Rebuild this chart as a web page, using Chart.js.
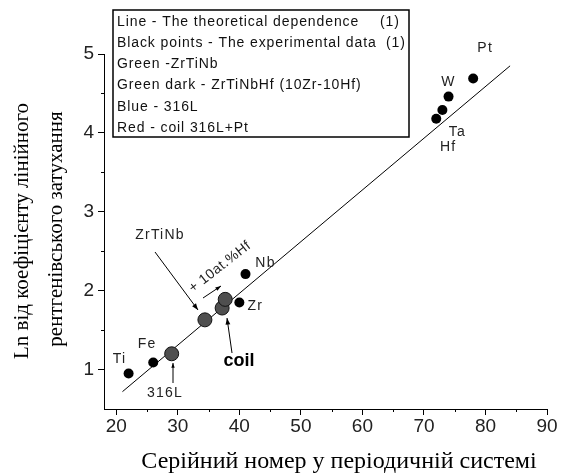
<!DOCTYPE html>
<html>
<head>
<meta charset="utf-8">
<script src="https://cdn.jsdelivr.net/npm/chart.js@4"></script>
<style>
  html,body{margin:0;padding:0;background:#fff;}
  #wrap{width:566px;height:474px;}
</style>
</head>
<body>
<div id="wrap"><canvas id="chart"></canvas></div>
<script>
// experimental data (black points)
const elements = ['Ti','Fe','Zr','Nb','Hf','Ta','W','Pt'];
const atomicNum = [22, 26, 40, 41, 72, 73, 74, 78];
const lnMu = [0.95, 1.09, 1.85, 2.21, 4.18, 4.29, 4.46, 4.69];

// alloys (grey points)
const alloys = ['316L', 'ZrTiNb', 'coil', 'ZrTiNbHf'];
const alloyZ = [29, 34.4, 37.2, 37.7];
const alloyLn = [1.2, 1.63, 1.78, 1.89];

// theoretical dependence (1)
const lineZ = [21, 84];
const lineLn = [0.72, 4.85];

const xTicks = [20, 25, 30, 35, 40, 45, 50, 55, 60, 65, 70, 75, 80, 85, 90];
const yTicks = [1, 1.5, 2, 2.5, 3, 3.5, 4, 4.5, 5];

const legendLines = [
  ['Line - The theoretical dependence', '(1)', 380],
  ['Black points - The experimental data', '(1)', 386],
  ['Green -ZrTiNb', '', 0],
  ['Green dark - ZrTiNbHf (10Zr-10Hf)', '', 0],
  ['Blue - 316L', '', 0],
  ['Red - coil 316L+Pt', '', 0]
];

// label offsets from each black point (px)
const elemLabelOff = {Ti:[-9,-14], Fe:[-6,-18], Zr:[16,4], Nb:[20,-11], Hf:[12,28], Ta:[15,22], W:[0,-14], Pt:[12,-30]};

function arrow(ctx, x1, y1, x2, y2, head) {
  ctx.beginPath();
  ctx.moveTo(x1, y1);
  ctx.lineTo(x2, y2);
  ctx.stroke();
  const a = Math.atan2(y2 - y1, x2 - x1);
  ctx.beginPath();
  ctx.moveTo(x2, y2);
  ctx.lineTo(x2 - head * Math.cos(a - 0.35), y2 - head * Math.sin(a - 0.35));
  ctx.lineTo(x2 - head * Math.cos(a + 0.35), y2 - head * Math.sin(a + 0.35));
  ctx.closePath();
  ctx.fill();
}

const decor = {
  id: 'decor',
  afterDraw(chart) {
    const ctx = chart.ctx;
    const xs = chart.scales.x, ys = chart.scales.y;
    const ax = chart.chartArea;
    ctx.save();
    ctx.strokeStyle = '#000';
    ctx.fillStyle = '#000';
    ctx.lineWidth = 1;

    // minor ticks
    ctx.beginPath();
    xTicks.filter(v => v % 10 !== 0).forEach(v => {
      const px = Math.round(xs.getPixelForValue(v)) + 0.5;
      ctx.moveTo(px, ax.bottom); ctx.lineTo(px, ax.bottom + 3);
    });
    yTicks.filter(v => v % 1 !== 0).forEach(v => {
      const py = Math.round(ys.getPixelForValue(v)) + 0.5;
      ctx.moveTo(ax.left, py); ctx.lineTo(ax.left - 3, py);
    });
    ctx.stroke();

    // legend box
    ctx.lineWidth = 1.5;
    ctx.strokeRect(113, 10, 296, 127);
    ctx.font = '14px "Liberation Sans", Arial, sans-serif';
    ctx.letterSpacing = '0.9px';
    ctx.textBaseline = 'middle';
    ctx.textAlign = 'left';
    ctx.fillStyle = '#111';
    legendLines.forEach((l, i) => {
      const y = 22 + i * 21.2;
      ctx.fillText(l[0], 117, y);
      if (l[1]) ctx.fillText(l[1], l[2], y);
    });

    // element labels
    ctx.fillStyle = '#222';
    ctx.font = '14px "Liberation Sans", Arial, sans-serif';
    ctx.letterSpacing = '1.2px';
    ctx.textAlign = 'center';
    elements.forEach((e, i) => {
      const o = elemLabelOff[e];
      ctx.fillText(e, xs.getPixelForValue(atomicNum[i]) + o[0], ys.getPixelForValue(lnMu[i]) + o[1]);
    });
    ctx.fillText('316L', 165, 393);
    ctx.fillText('ZrTiNb', 160, 235);

    ctx.letterSpacing = '0px';
    ctx.font = 'bold 18px "Liberation Sans", Arial, sans-serif';
    ctx.fillStyle = '#000';
    ctx.fillText('coil', 239, 361);

    // rotated "+ 10at.%Hf"
    ctx.save();
    ctx.translate(220, 267);
    ctx.rotate(-38 * Math.PI / 180);
    ctx.font = '14px "Liberation Sans", Arial, sans-serif';
    ctx.letterSpacing = '0.5px';
    ctx.fillStyle = '#222';
    ctx.fillText('+ 10at.%Hf', 0, 0);
    ctx.restore();
    ctx.letterSpacing = '0px';

    // arrows
    ctx.lineWidth = 1;
    arrow(ctx, 155, 252, 198, 310, 7);
    arrow(ctx, 203, 298, 221, 286, 6);
    arrow(ctx, 232, 353, 227, 318, 7);
    arrow(ctx, 173, 383, 173, 363, 5);

    // axis titles
    ctx.fillStyle = '#000';
    ctx.textAlign = 'center';
    ctx.font = '24px "Liberation Serif", "Times New Roman", serif';
    ctx.fillText('Серійний номер у періодичній системі', 339, 462);
    ctx.font = '21px "Liberation Serif", "Times New Roman", serif';
    ctx.save();
    ctx.translate(22, 231);
    ctx.rotate(-Math.PI / 2);
    ctx.fillText('Ln від коефіцієнту лінійного', 0, 0);
    ctx.restore();
    ctx.save();
    ctx.translate(56, 229);
    ctx.rotate(-Math.PI / 2);
    ctx.fillText('рентгенівського затухання', 0, 0);
    ctx.restore();

    ctx.restore();
  }
};

new Chart(document.getElementById('chart'), {
  type: 'scatter',
  data: {
    datasets: [
      {
        label: 'Line - The theoretical dependence',
        data: lineZ.map((z, i) => ({x: z, y: lineLn[i]})),
        showLine: true, pointRadius: 0, borderColor: '#000', borderWidth: 1, order: 3
      },
      {
        label: 'Black points - The experimental data',
        data: atomicNum.map((z, i) => ({x: z, y: lnMu[i]})),
        pointRadius: 5, backgroundColor: '#000', borderColor: '#000', borderWidth: 0, order: 2
      },
      {
        label: 'Alloys',
        data: alloyZ.map((z, i) => ({x: z, y: alloyLn[i]})),
        pointRadius: 7, backgroundColor: '#4f4f4f', borderColor: '#111', borderWidth: 1, order: 1
      }
    ]
  },
  options: {
    responsive: true,
    maintainAspectRatio: false,
    animation: false,
    layout: {padding: {left: 0, top: 54, right: 19, bottom: 0}},
    plugins: {legend: {display: false}, tooltip: {enabled: false}},
    scales: {
      x: {
        type: 'linear', min: 18, max: 90,
        afterBuildTicks: s => { s.ticks = xTicks.map(v => ({value: v})); },
        afterFit: s => { s.height = 65; },
        border: {color: '#000', width: 1},
        grid: {drawOnChartArea: false, tickLength: 6, tickColor: c => (c.tick && c.tick.value % 10 === 0) ? '#000' : 'rgba(0,0,0,0)'},
        ticks: {
          autoSkip: false, maxRotation: 0, padding: 0,
          color: '#222', font: {family: 'Liberation Sans', size: 19},
          callback: v => v % 10 === 0 ? v : ''
        }
      },
      y: {
        type: 'linear', min: 0.5, max: 5,
        afterBuildTicks: s => { s.ticks = yTicks.map(v => ({value: v})); },
        afterFit: s => { s.width = 104; },
        border: {color: '#000', width: 1},
        grid: {drawOnChartArea: false, tickLength: 6, tickColor: c => (c.tick && c.tick.value % 1 === 0) ? '#000' : 'rgba(0,0,0,0)'},
        ticks: {
          autoSkip: false, padding: 4,
          color: '#222', font: {family: 'Liberation Sans', size: 19},
          callback: v => v % 1 === 0 ? v : ''
        }
      }
    }
  },
  plugins: [decor]
});
</script>
</body>
</html>
